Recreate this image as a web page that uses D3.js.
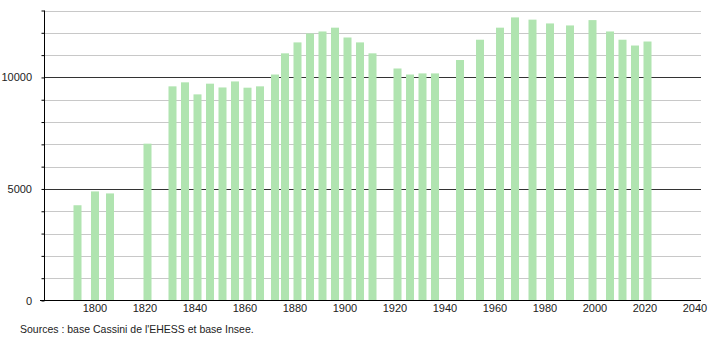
<!DOCTYPE html>
<html>
<head>
<meta charset="utf-8">
<script src="https://cdn.jsdelivr.net/npm/d3@7"></script>
<style>
  body { margin: 0; background: #fff; }
  text { font-family: "Liberation Sans", Arial, sans-serif; }
</style>
</head>
<body>
<svg id="chart" width="710" height="340"></svg>
<script>
// census years and population
const years = [1793, 1800, 1806, 1821, 1831, 1836, 1841, 1846, 1851, 1856, 1861, 1866,
  1872, 1876, 1881, 1886, 1891, 1896, 1901, 1906, 1911, 1921, 1926, 1931, 1936,
  1946, 1954, 1962, 1968, 1975, 1982, 1990, 1999, 2006, 2011, 2016, 2021];
const population = [4270, 4890, 4800, 7030, 9600, 9780, 9240, 9720, 9550, 9820, 9540, 9600,
  10130, 11080, 11570, 11970, 12060, 12230, 11790, 11570, 11080, 10400, 10130, 10180, 10180,
  10780, 11690, 12230, 12690, 12590, 12420, 12330, 12570, 12060, 11690, 11430, 11610];
const xTicks = [1800, 1820, 1840, 1860, 1880, 1900, 1920, 1940, 1960, 1980, 2000, 2020, 2040];
const yLabels = [0, 5000, 10000];
const yGrid = d3.range(1000, 13001, 1000);

const svg = d3.select("#chart");
const plotLeft = 44.5, plotRight = 701, plotTop = 10.5, plotBottom = 300.5;

const x = d3.scaleLinear().domain([1779.8, 2042.4]).range([plotLeft, plotRight]);
const y = d3.scaleLinear().domain([0, 13000]).range([plotBottom, plotTop]);

// gridlines
svg.append("g")
  .selectAll("line")
  .data(yGrid)
  .enter().append("line")
  .attr("x1", plotLeft)
  .attr("x2", plotRight)
  .attr("y1", d => Math.round(y(d)) + 0.5)
  .attr("y2", d => Math.round(y(d)) + 0.5)
  .attr("stroke", d => d % 5000 === 0 ? "#333" : "#c8c8c8")
  .attr("stroke-width", 1);

// bars
const barW = 8;
svg.append("g")
  .selectAll("rect")
  .data(years)
  .enter().append("rect")
  .attr("x", d => x(d) - barW / 2)
  .attr("width", barW)
  .attr("y", (d, i) => y(population[i]))
  .attr("height", (d, i) => plotBottom - 0.5 - y(population[i]))
  .attr("fill", "#b0e4b0");

// y axis
const yAxis = d3.axisLeft(y).tickValues(yGrid.concat([0])).tickSize(3).tickFormat("");
const gy = svg.append("g").attr("transform", `translate(${plotLeft},0)`).call(yAxis);
gy.select(".domain").attr("d", `M0,${plotTop}V${plotBottom}`).attr("stroke", "#000");
gy.selectAll(".tick line").attr("stroke", "#000");

svg.append("g")
  .selectAll("text")
  .data(yLabels)
  .enter().append("text")
  .attr("x", 32)
  .attr("y", d => y(d) + 4)
  .attr("text-anchor", "end")
  .style("font-size", "11px")
  .attr("fill", "#222")
  .text(d => d);

// x axis
svg.append("line")
  .attr("x1", 40).attr("x2", plotRight)
  .attr("y1", plotBottom).attr("y2", plotBottom)
  .attr("stroke", "#000");

svg.append("g")
  .selectAll("text")
  .data(xTicks)
  .enter().append("text")
  .attr("x", d => x(d))
  .attr("y", 312)
  .attr("text-anchor", "middle")
  .style("font-size", "11px")
  .attr("fill", "#222")
  .text(d => d);

svg.append("text")
  .attr("x", 20)
  .attr("y", 333)
  .style("font-size", "10.5px")
  .attr("fill", "#222")
  .text("Sources : base Cassini de l'EHESS et base Insee.");
</script>
</body>
</html>
